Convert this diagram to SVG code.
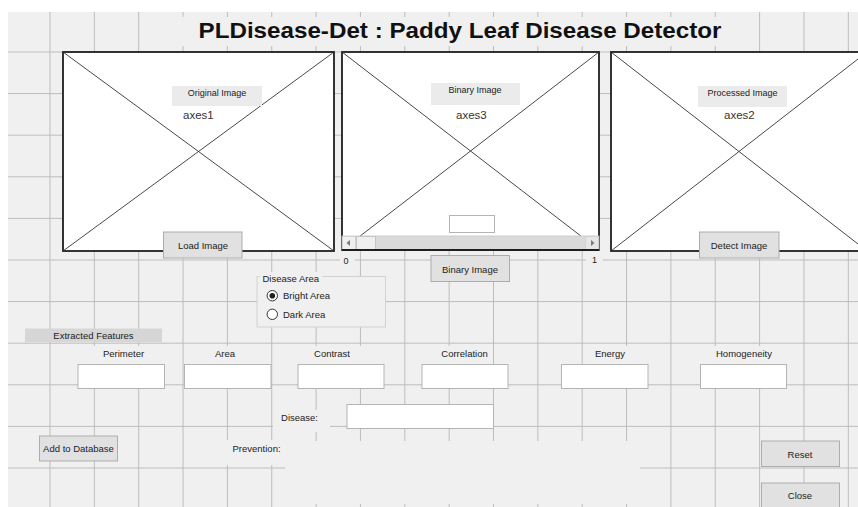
<svg xmlns="http://www.w3.org/2000/svg" width="858" height="507" viewBox="0 0 858 507">
<style>
.bg{fill:#f0f0f0}
.gl line{stroke:#bdbdbd;stroke-width:1}
.axes{fill:#fff;stroke:#1e1e1e;stroke-width:1.8}
.diag{stroke:#333;stroke-width:0.9}
.tag{fill:#ebebeb}
.btn{fill:#e1e1e1;stroke:#adadad;stroke-width:1}
.edit{fill:#fff;stroke:#b4b4b4;stroke-width:1}
.t{font-family:"Liberation Sans",Arial,sans-serif;font-size:9.5px;fill:#222}
.s{font-size:9px}
.c{text-anchor:middle}
.ax{font-family:"Liberation Sans",Arial,sans-serif;font-size:11.5px;fill:#333}
</style>
<rect x="0" y="0" width="858" height="507" fill="#fff"/>
<rect class="bg" x="8" y="12" width="850" height="495"/>
<g id="grid" class="gl">
<line x1="50" y1="12" x2="50" y2="507"/><line x1="94.35" y1="12" x2="94.35" y2="507"/><line x1="138.7" y1="12" x2="138.7" y2="507"/><line x1="183.05" y1="12" x2="183.05" y2="507"/><line x1="227.4" y1="12" x2="227.4" y2="507"/><line x1="271.75" y1="12" x2="271.75" y2="507"/><line x1="316.1" y1="12" x2="316.1" y2="507"/><line x1="360.45" y1="12" x2="360.45" y2="507"/><line x1="404.8" y1="12" x2="404.8" y2="507"/><line x1="449.15" y1="12" x2="449.15" y2="507"/><line x1="493.5" y1="12" x2="493.5" y2="507"/><line x1="537.85" y1="12" x2="537.85" y2="507"/><line x1="582.2" y1="12" x2="582.2" y2="507"/><line x1="626.55" y1="12" x2="626.55" y2="507"/><line x1="670.9" y1="12" x2="670.9" y2="507"/><line x1="715.25" y1="12" x2="715.25" y2="507"/><line x1="759.6" y1="12" x2="759.6" y2="507"/><line x1="803.95" y1="12" x2="803.95" y2="507"/><line x1="848.3" y1="12" x2="848.3" y2="507"/>
<line x1="8" y1="52" x2="858" y2="52"/><line x1="8" y1="93.6" x2="858" y2="93.6"/><line x1="8" y1="135.2" x2="858" y2="135.2"/><line x1="8" y1="176.8" x2="858" y2="176.8"/><line x1="8" y1="218.4" x2="858" y2="218.4"/><line x1="8" y1="260" x2="858" y2="260"/><line x1="8" y1="301.6" x2="858" y2="301.6"/><line x1="8" y1="343.2" x2="858" y2="343.2"/><line x1="8" y1="384.8" x2="858" y2="384.8"/><line x1="8" y1="426.4" x2="858" y2="426.4"/><line x1="8" y1="468" x2="858" y2="468"/>
</g>
<g id="title">
<rect class="bg" x="178" y="17" width="564" height="29"/>
<text x="460" y="37.5" text-anchor="middle" font-family="Liberation Sans,Arial,sans-serif" font-weight="bold" font-size="21.5" fill="#111" textLength="523" lengthAdjust="spacingAndGlyphs">PLDisease-Det : Paddy Leaf Disease Detector</text>
</g>
<g id="axes1">
<rect class="axes" x="63" y="52" width="271" height="199"/>
<line class="diag" x1="63" y1="52" x2="334" y2="251"/>
<line class="diag" x1="63" y1="251" x2="334" y2="52"/>
<rect class="tag" x="172" y="86" width="90" height="20"/>
<text class="t s c" x="217" y="96">Original Image</text>
<text class="ax" x="183" y="119">axes1</text>
</g>
<g id="axes3">
<rect class="axes" x="342" y="52" width="257" height="198"/>
<line class="diag" x1="342" y1="52" x2="599" y2="250"/>
<line class="diag" x1="342" y1="250" x2="599" y2="52"/>
<rect class="tag" x="431" y="83" width="89" height="22"/>
<text class="t s c" x="475" y="93">Binary Image</text>
<text class="ax" x="456" y="118.5">axes3</text>
<rect class="edit" x="449.5" y="215.5" width="45" height="17"/>
</g>
<g id="slider">
<rect x="342" y="236" width="257" height="14" fill="#dadada" stroke="#c8c8c8" stroke-width="0.8"/>
<rect x="342.5" y="236.5" width="13" height="13" fill="#f0f0f0" stroke="#cfcfcf" stroke-width="0.8"/>
<polygon points="350,240 350,246 346.5,243" fill="#7a7a7a"/>
<rect x="356.5" y="236.5" width="19" height="13" fill="#efefef" stroke="#bdbdbd" stroke-width="0.8"/>
<rect x="585.5" y="236.5" width="13" height="13" fill="#e6e6e6" stroke="#cfcfcf" stroke-width="0.8"/>
<polygon points="591,240 591,246 594.5,243" fill="#7a7a7a"/>
<line x1="342" y1="250" x2="599" y2="250" stroke="#1e1e1e" stroke-width="1.8"/>
<rect class="bg" x="340" y="253" width="15" height="14"/>
<text class="t s c" x="346" y="263.5">0</text>
<rect class="bg" x="586" y="253" width="17" height="14"/>
<text class="t s c" x="594.5" y="263">1</text>
</g>
<g id="axes2">
<rect class="axes" x="611" y="52" width="256" height="199"/>
<line class="diag" x1="611" y1="52" x2="867" y2="251"/>
<line class="diag" x1="611" y1="251" x2="867" y2="52"/>
<rect class="tag" x="698" y="86" width="89" height="21"/>
<text class="t s c" x="742.5" y="96">Processed Image</text>
<text class="ax" x="724" y="119">axes2</text>
</g>
<g id="btn-load">
<rect class="btn" x="163.5" y="232" width="78.5" height="26"/>
<text class="t c" x="203" y="249">Load Image</text>
</g>
<g id="btn-detect">
<rect class="btn" x="699.5" y="232" width="79.5" height="26"/>
<text class="t c" x="739" y="249">Detect Image</text>
</g>
<g id="btn-binary">
<rect class="btn" x="431" y="255.5" width="78.5" height="26"/>
<text class="t c" x="470" y="272.5">Binary Image</text>
</g>
<g id="panel-disease-area">
<rect class="bg" x="257" y="276.5" width="128.5" height="50.5" stroke="#d2d2d2" stroke-width="1"/>
<rect class="bg" x="260" y="272" width="62" height="12"/>
<text class="t" x="262.5" y="282">Disease Area</text>
<circle cx="272.3" cy="295.7" r="5.2" fill="#fff" stroke="#333" stroke-width="1"/>
<circle cx="272.3" cy="295.7" r="2.8" fill="#222"/>
<text class="t" x="283" y="299">Bright Area</text>
<circle cx="272.3" cy="314.3" r="5.2" fill="#fff" stroke="#333" stroke-width="1"/>
<text class="t" x="283" y="317.7">Dark Area</text>
</g>
<g id="extracted-features">
<rect x="25" y="328.5" width="137" height="13.5" fill="#d6d6d6"/>
<text class="t c" x="93.5" y="338.5">Extracted Features</text>
</g>
<g id="f-perimeter">
<rect class="bg" x="88" y="346" width="72" height="18"/>
<text class="t c" x="123.5" y="357">Perimeter</text>
<rect class="edit" x="78" y="364.5" width="86.5" height="24"/>
</g>
<g id="f-area">
<rect class="bg" x="200" y="346" width="50" height="18"/>
<text class="t c" x="225" y="357">Area</text>
<rect class="edit" x="184.5" y="364.5" width="86.5" height="24"/>
</g>
<g id="f-contrast">
<rect class="bg" x="298" y="346" width="86" height="18"/>
<text class="t c" x="332" y="357">Contrast</text>
<rect class="edit" x="298" y="364.5" width="86" height="24"/>
</g>
<g id="f-correlation">
<rect class="bg" x="430" y="346" width="60" height="18"/>
<text class="t c" x="464.5" y="357">Correlation</text>
<rect class="edit" x="422" y="364.5" width="86" height="24"/>
</g>
<g id="f-energy">
<rect class="bg" x="590" y="346" width="40" height="18"/>
<text class="t c" x="610" y="357">Energy</text>
<rect class="edit" x="561.5" y="364.5" width="86.5" height="24"/>
</g>
<g id="f-homogeneity">
<rect class="bg" x="712" y="346" width="64" height="18"/>
<text class="t c" x="744" y="357">Homogeneity</text>
<rect class="edit" x="700.5" y="364.5" width="86" height="24"/>
</g>
<g id="disease">
<rect class="bg" x="273" y="410" width="57" height="22"/>
<text class="t c" x="299.5" y="421">Disease:</text>
<rect class="edit" x="347" y="404.5" width="146.5" height="24"/>
</g>
<g id="prevention">
<rect class="bg" x="225" y="440" width="60" height="25"/>
<rect class="bg" x="285" y="441" width="355" height="63"/>
<text class="t" x="232.5" y="451.5">Prevention:</text>
</g>
<g id="btn-add">
<rect class="btn" x="39.5" y="436" width="78" height="25"/>
<text class="t c" x="78.5" y="452.3">Add to Database</text>
</g>
<g id="btn-reset">
<rect class="btn" x="761.5" y="441" width="78" height="25.5"/>
<text class="t c" x="800" y="457.5">Reset</text>
</g>
<g id="btn-close">
<rect class="btn" x="761.5" y="483" width="78" height="26"/>
<text class="t c" x="800" y="499">Close</text>
</g>
</svg>
